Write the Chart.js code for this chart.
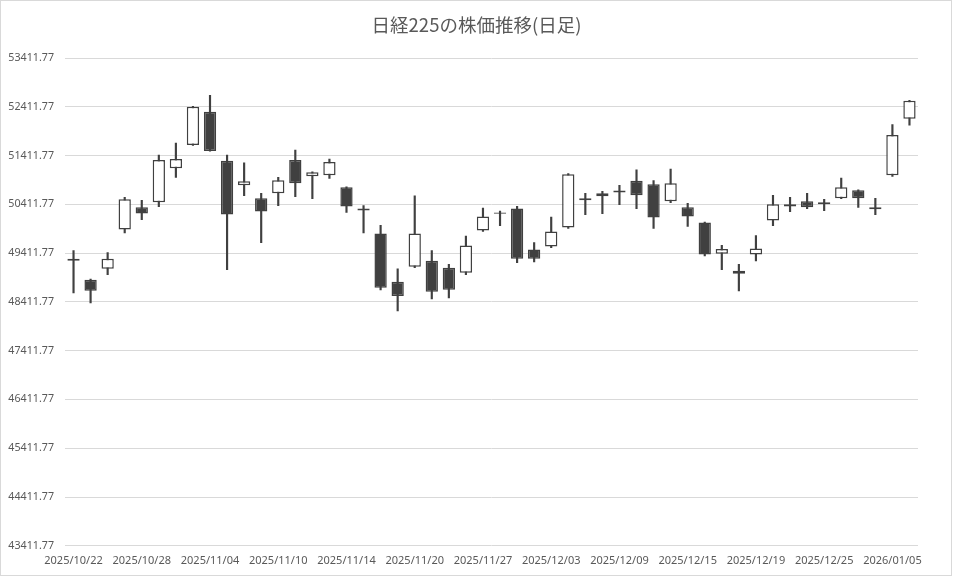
<!DOCTYPE html>
<html>
<head>
<meta charset="utf-8">
<script src="https://cdn.jsdelivr.net/npm/chart.js@4.4.1/dist/chart.umd.min.js"></script>
<style>
  html, body { margin: 0; padding: 0; background: #fff; }
  #wrap { width: 953px; height: 577px; position: relative; }
</style>
</head>
<body>
<div id="wrap"><canvas id="chart"></canvas></div>
<script>
// ── Data ──────────────────────────────────────────────────────────────────

const DATES = [
  '2025/10/22', '2025/10/23', '2025/10/24', '2025/10/27', '2025/10/28', '2025/10/29', '2025/10/30', '2025/10/31',
  '2025/11/04', '2025/11/05', '2025/11/06', '2025/11/07', '2025/11/10', '2025/11/11', '2025/11/12', '2025/11/13',
  '2025/11/14', '2025/11/17', '2025/11/18', '2025/11/19', '2025/11/20', '2025/11/21', '2025/11/25', '2025/11/26',
  '2025/11/27', '2025/11/28', '2025/12/01', '2025/12/02', '2025/12/03', '2025/12/04', '2025/12/05', '2025/12/08',
  '2025/12/09', '2025/12/10', '2025/12/11', '2025/12/12', '2025/12/15', '2025/12/16', '2025/12/17', '2025/12/18',
  '2025/12/19', '2025/12/22', '2025/12/23', '2025/12/24', '2025/12/25', '2025/12/26', '2025/12/29', '2025/12/30',
  '2026/01/05', '2026/01/06',
];

const OPEN = [
  49257, 48865, 49092, 49896, 50350, 50453, 51154, 51628, 52309, 51305,
  50803, 50535, 50639, 51319, 50989, 51010, 50762, 50288, 49814, 48824,
  49133, 49257, 49113, 49010, 49876, 50247, 50329, 49484, 49546, 49937,
  50535, 50639, 50693, 50893, 50824, 50474, 50350, 50041, 49401, 49051,
  49381, 50082, 50370, 50474, 50453, 50535, 50700, 50309, 51010, 52164,
];
const HIGH = [
  49463, 48880, 49422, 50556, 50494, 51422, 51669, 52420, 52645, 51422,
  51264, 50639, 50968, 51525, 51080, 51340, 50770, 50384, 49979, 49092,
  50584, 49463, 49181, 49759, 50336, 50274, 50370, 49628, 50151, 51040,
  50639, 50680, 50803, 51120, 50900, 51133, 50432, 50050, 49573, 49181,
  49773, 50597, 50556, 50639, 50515, 50948, 50710, 50535, 52047, 52545,
];
const LOW = [
  48597, 48391, 48968, 49828, 50096, 50364, 50962, 51620, 51500, 49071,
  50590, 49628, 50384, 50570, 50529, 50941, 50247, 49828, 48659, 48226,
  49113, 48474, 48494, 48968, 49855, 49972, 49216, 49230, 49525, 49917,
  50199, 50219, 50405, 50322, 49917, 50446, 49958, 49353, 49071, 48638,
  49250, 49972, 50261, 50322, 50281, 50530, 50350, 50199, 50982, 52034,
];
const CLOSE = [
  49298, 48638, 49298, 50515, 50226, 51319, 51340, 52412, 51505, 50206,
  50886, 50267, 50907, 50845, 51072, 51278, 50370, 50329, 48700, 48535,
  49814, 48618, 48659, 49566, 50164, 50219, 49298, 49298, 49855, 51030,
  50494, 50577, 50652, 50597, 50144, 50845, 50164, 49381, 49498, 48989,
  49504, 50412, 50412, 50350, 50412, 50762, 50535, 50350, 51834, 52535,
];

const Y_TICKS = [
  43411.77, 44411.77, 45411.77, 46411.77, 47411.77, 48411.77,
  49411.77, 50411.77, 51411.77, 52411.77, 53411.77,
];

const TITLE = '日経225の株価推移(日足)';

// ── Style ─────────────────────────────────────────────────────────────────

const INK   = '#404040';
const TEXT  = '#595959';
const GRID  = '#d9d9d9';
const FONT  = '"Noto Sans", "Noto Sans CJK JP", sans-serif';

const up = OPEN.map((o, i) => CLOSE[i] >= o);

// title centred on the whole canvas + thin grey frame, like the Excel chart area
const decor = {
  id: 'decor',
  afterDraw(chart) {
    const { ctx, width, height } = chart;
    ctx.save();
    ctx.fillStyle = TEXT;
    ctx.font = 'normal 18.5px "Noto Sans CJK JP", "Noto Sans", sans-serif';
    ctx.textAlign = 'center';
    ctx.textBaseline = 'middle';
    ctx.fillText(TITLE, width / 2, 25);
    ctx.strokeStyle = GRID;
    ctx.lineWidth = 1;
    ctx.strokeRect(0.5, 0.5, width - 2, height - 2);
    ctx.restore();
  },
};

new Chart(document.getElementById('chart'), {
  type: 'bar',
  data: {
    labels: DATES,
    datasets: [
      {
        // candle bodies
        data: OPEN.map((o, i) => [o, CLOSE[i]]),
        backgroundColor: up.map(u => u ? '#ffffff' : INK),
        borderColor: INK,
        borderWidth: 1.5,
        borderSkipped: false,
        barPercentage: 0.72,
        categoryPercentage: 1,
        grouped: false,
        order: 0,
      },
      {
        // wicks
        data: LOW.map((l, i) => [l, HIGH[i]]),
        backgroundColor: INK,
        borderWidth: 0,
        barThickness: 1.5,
        grouped: false,
        order: 1,
      },
    ],
  },
  options: {
    responsive: true,
    maintainAspectRatio: false,
    animation: false,
    layout: { padding: { left: 2, right: 35, top: 58, bottom: 2 } },
    plugins: {
      legend: { display: false },
      tooltip: { enabled: false },
      title: { display: false },
    },
    scales: {
      x: {
        grid: { display: false, drawTicks: false },
        border: { display: false },
        ticks: {
          color: TEXT,
          font: { family: FONT, size: 11 },
          autoSkip: false,
          maxRotation: 0,
          padding: 8,
          callback: (_, i) => i % 4 === 0 ? DATES[i] : '',
        },
      },
      y: {
        min: Y_TICKS[0],
        max: Y_TICKS[Y_TICKS.length - 1],
        afterBuildTicks: axis => { axis.ticks = Y_TICKS.map(v => ({ value: v })); },
        afterFit: axis => { axis.width = 63; },
        grid: { color: GRID, drawTicks: false },
        border: { display: false },
        ticks: {
          color: TEXT,
          font: { family: FONT, size: 10.7 },
          padding: 11,
          callback: v => Number(v).toFixed(2),
        },
      },
    },
  },
  plugins: [decor],
});
</script>
</body>
</html>
